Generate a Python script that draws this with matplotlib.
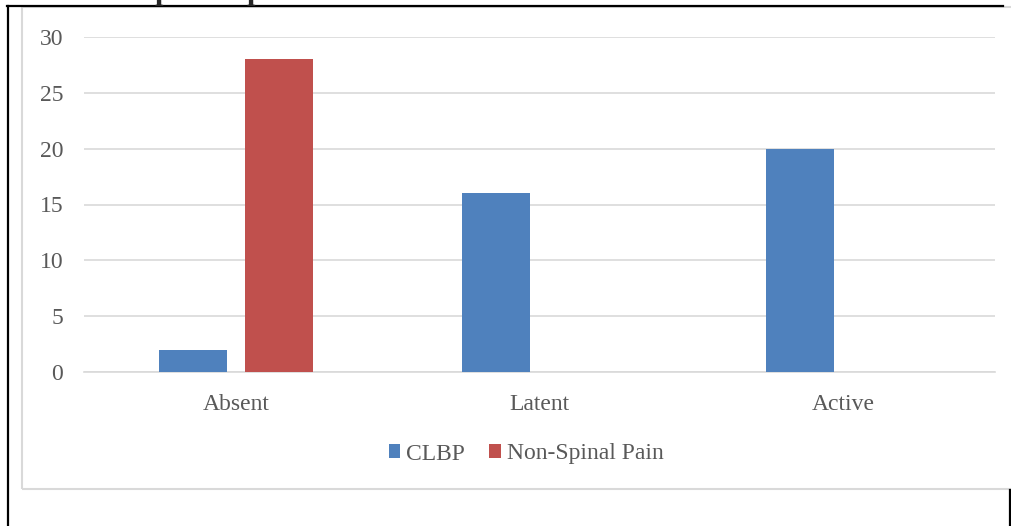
import matplotlib
matplotlib.use("Agg")
import matplotlib.pyplot as plt
import numpy as np
from matplotlib.lines import Line2D
from matplotlib.patches import Rectangle

categories = ["Absent", "Latent", "Active"]
series_names = ["CLBP", "Non-Spinal Pain"]
clbp = [2, 16, 20]
non_spinal = [28, 0, 0]
y_ticks = [0, 5, 10, 15, 20, 25, 30]

colors = ["#4F81BD", "#C0504D"]
text_color = "#595959"
grid_color = "#D9D9D9"

W, H = 1012, 526
fig = plt.figure(figsize=(W / 100, H / 100), dpi=100)
plt.rcParams["font.family"] = ["Liberation Serif", "DejaVu Serif"]

def fx(px):
    return px / W

def fy(py):
    return 1 - py / H

# outer black page frame
fig.add_artist(Line2D([fx(8), fx(8)], [fy(6), fy(527)], color="black", lw=1.6))
fig.add_artist(Line2D([fx(7), fx(1003)], [fy(6), fy(6)], color="black", lw=1.6))
fig.add_artist(Line2D([fx(1010), fx(1010)], [fy(490), fy(527)], color="black", lw=1.6))

# chart area border
fig.add_artist(Rectangle((fx(22), fy(489)), fx(1020) - fx(22), fy(7) - fy(489),
                         transform=fig.transFigure, fill=False,
                         edgecolor=grid_color, lw=1.5))

# fragments of the heading above the chart
for xp in [163, 255]:
    fig.text(fx(xp), fy(-1), "p", fontsize=22, fontweight="bold",
             color="#262626", ha="center", va="baseline")

ax = fig.add_axes([fx(84), fy(372), fx(995) - fx(84), fy(37) - fy(372)])
x = np.arange(len(categories))
bw = 0.224
gap = 0.06
ax.bar(x - (bw + gap) / 2, clbp, bw, color=colors[0], label=series_names[0], zorder=3)
ax.bar(x + (bw + gap) / 2, non_spinal, bw, color=colors[1], label=series_names[1], zorder=3)

ax.set_xlim(-0.5, len(categories) - 0.5)
ax.set_ylim(0, 30)
ax.set_yticks(y_ticks)
ax.set_yticklabels([str(v) for v in y_ticks])
ax.set_xticks(x)
ax.set_xticklabels(categories)
ax.tick_params(axis="y", length=0, pad=15, labelsize=17, labelcolor=text_color)
ax.tick_params(axis="x", length=0, pad=16, labelsize=17, labelcolor=text_color)
ax.grid(axis="y", color=grid_color, lw=1.2, zorder=0)
for s in ["top", "right", "left"]:
    ax.spines[s].set_visible(False)
ax.spines["bottom"].set_color(grid_color)
ax.spines["bottom"].set_linewidth(1.2)

leg = fig.legend(loc="center", bbox_to_anchor=(fx(526), fy(454)), ncol=2,
                 frameon=False, fontsize=17, labelcolor=text_color,
                 handlelength=0.5, handleheight=0.5, handletextpad=0.25,
                 columnspacing=1.0)

fig.savefig("out.png", dpi=100)
